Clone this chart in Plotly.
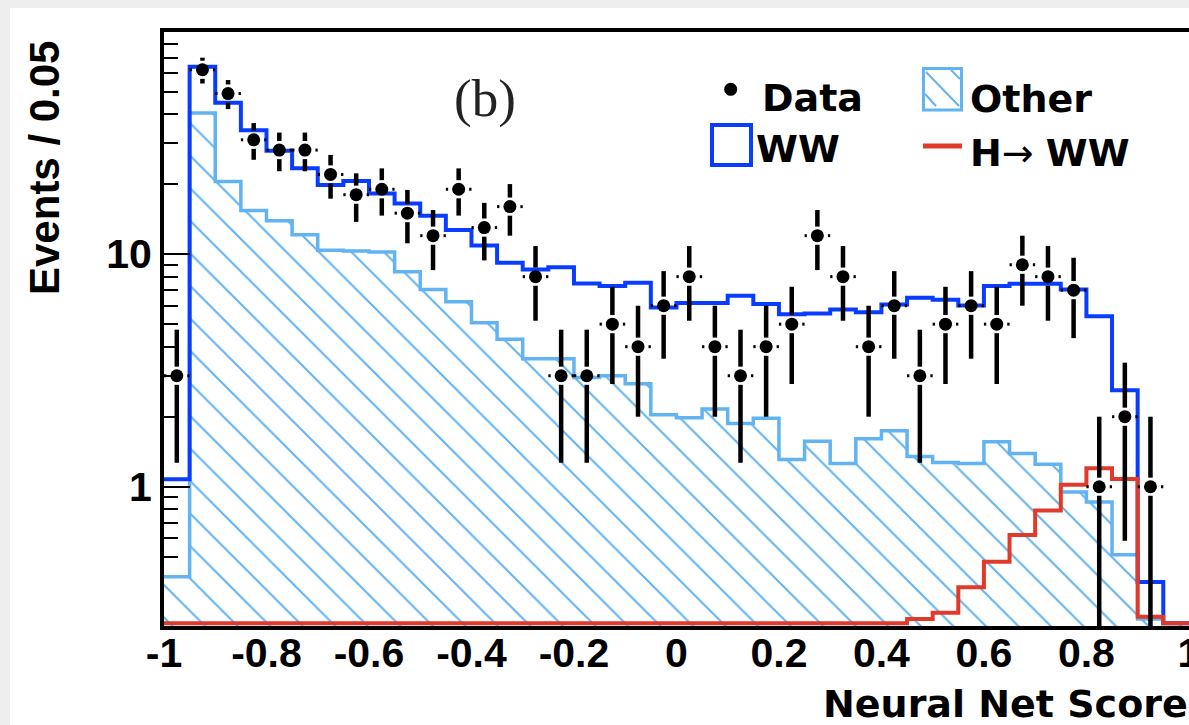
import numpy as np
import plotly.graph_objects as go

# ---------------------------------------------------------------------------
# Neural-net output histogram, 40 bins of width 0.05 on [-1, 1]
# ---------------------------------------------------------------------------
bin_edges = np.round(np.arange(-1.0, 1.0001, 0.05), 3)
bin_centers = (bin_edges[:-1] + bin_edges[1:]) / 2.0

# Other backgrounds (hatched)
other_bkg = [0.41, 40.4, 20.5, 15.4, 13.9, 12.1, 10.4, 10.3, 10.2, 8.4,
             7.05, 6.24, 5.07, 4.3, 3.55, 3.55, 2.95, 3.0, 2.77, 2.04,
             1.98, 2.16, 1.87, 1.97, 1.31, 1.57, 1.26, 1.61, 1.74, 1.35,
             1.27, 1.26, 1.56, 1.39, 1.25, 0.95, 0.86, 0.51, 0.27, 0.0]

# WW stacked on top of the other backgrounds
ww_stack = [1.077, 63.8, 44.7, 34.1, 27.8, 23.4, 19.8, 20.6, 18.2, 16.5,
            14.6, 12.7, 10.9, 9.17, 8.59, 8.77, 7.48, 7.29, 7.53, 5.9,
            6.16, 6.16, 6.62, 6.1, 5.52, 5.55, 5.78, 5.63, 6.08, 6.49,
            6.36, 6.02, 7.29, 7.45, 7.45, 7.05, 5.41, 2.6, 0.39, 0.0]

# Higgs signal H -> WW
higgs_ww = [0.0] * 29 + [0.27, 0.287, 0.37, 0.476, 0.62, 0.79, 1.02, 1.2,
                         1.08, 0.276, 0.0]

# Observed events
data_counts = [3, 62, 49, 31, 28, 28, 22, 18, 19, 15,
               12, 19, 13, 16, 8, 3, 3, 5, 4, 6,
               8, 4, 3, 4, 5, 12, 8, 4, 6, 3,
               5, 6, 5, 9, 8, 7, 1, 2, 1, 0]

x_tick_vals = [-1, -0.8, -0.6, -0.4, -0.2, 0, 0.2, 0.4, 0.6, 0.8, 1]
x_tick_text = ["-1", "-0.8", "-0.6", "-0.4", "-0.2", "0", "0.2", "0.4",
               "0.6", "0.8", "1"]
y_tick_vals = [1, 10]
y_tick_text = ["1", "10"]
y_minor_vals = [0.5, 0.6, 0.7, 0.8, 0.9, 2, 3, 4, 5, 6, 7, 8, 9,
                20, 30, 40, 50, 60, 70, 80]

# ---------------------------------------------------------------------------
# Style
# ---------------------------------------------------------------------------
BLUE = "#0a3cff"
LIGHT_BLUE = "#62b3f2"
RED = "#e23a2a"
Y_MIN, Y_MAX = 0.252, 90.1
X_MAX = 1.0002
BASELINE = 0.259          # where empty bins are drawn on the log axis
HALF_BIN = 0.025
GAP_X = 0.0205            # gap left around a data marker (x units)
GAP_DEC = 0.039           # gap left around a data marker (decades)

W, H = 1189, 725
PL, PR, PT, PB = 164, 1189, 32, 626   # plot area in pixels


def px(x):
    return (x - PL) / (PR - PL)


def py(y):
    return (PB - y) / (PB - PT)


def step_xy(values):
    v = np.asarray(values, dtype=float)
    v = np.where(v > 0, v, BASELINE)
    return bin_edges, np.append(v, v[-1])


fig = go.Figure()

# Other backgrounds: hatched fill plus outline
sx, sy = step_xy(other_bkg)
fig.add_trace(go.Scatter(
    x=sx, y=sy, mode="lines", line=dict(color=LIGHT_BLUE, width=3.5, shape="hv"),
    fill="tozeroy", fillcolor="rgba(255,255,255,0)",
    fillpattern=dict(shape="\\", fgcolor=LIGHT_BLUE, bgcolor="rgba(255,255,255,0)",
                     size=23, solidity=0.09, fillmode="replace"),
    hoverinfo="skip"))

# WW (stacked total)
sx, sy = step_xy(ww_stack)
fig.add_trace(go.Scatter(x=sx, y=sy, mode="lines",
                         line=dict(color=BLUE, width=4, shape="hv"),
                         hoverinfo="skip"))

# Higgs signal
sx, sy = step_xy(higgs_ww)
fig.add_trace(go.Scatter(x=sx, y=sy, mode="lines",
                         line=dict(color=RED, width=4, shape="hv"),
                         hoverinfo="skip"))

# Data error bars (Poisson sqrt(N)), with a small gap around each marker
g = 10 ** GAP_DEC
vx, vy, hx, hy = [], [], [], []
for c, n in zip(bin_centers, data_counts):
    if n <= 0:
        continue
    s = np.sqrt(n)
    lo = n - s if n - s > 0 else Y_MIN * 0.7
    vx += [c, c, None, c, c, None]
    vy += [n + s, n * g, None, n / g, lo, None]
    hx += [c - HALF_BIN, c - GAP_X, None, c + GAP_X, c + HALF_BIN, None]
    hy += [n, n, None, n, n, None]

fig.add_trace(go.Scatter(x=vx, y=vy, mode="lines",
                         line=dict(color="black", width=4.5), hoverinfo="skip"))
fig.add_trace(go.Scatter(x=hx, y=hy, mode="lines",
                         line=dict(color="black", width=3), hoverinfo="skip"))

dc = np.asarray(data_counts)
fig.add_trace(go.Scatter(x=bin_centers[dc > 0], y=dc[dc > 0], mode="markers",
                         marker=dict(color="black", size=13, line=dict(width=0)),
                         hoverinfo="skip"))

# ---------------------------------------------------------------------------
# Legend, labels and frame decorations
# ---------------------------------------------------------------------------
shapes = [
    # white page area inside the light grey border
    dict(type="rect", xref="paper", yref="paper", layer="below",
         x0=px(10), x1=px(W + 5), y0=py(H + 5), y1=py(8),
         fillcolor="white", line=dict(width=0)),
    # Data marker
    dict(type="circle", xref="paper", yref="paper",
         x0=px(724.2), x1=px(737.2), y0=py(95.8), y1=py(82.8),
         fillcolor="black", line=dict(width=0)),
    # WW box
    dict(type="rect", xref="paper", yref="paper",
         x0=px(712), x1=px(751), y0=py(165), y1=py(125),
         line=dict(color=BLUE, width=4), fillcolor="rgba(0,0,0,0)"),
    # Other box with hatching
    dict(type="rect", xref="paper", yref="paper",
         x0=px(923.5), x1=px(961.5), y0=py(110), y1=py(68.5),
         line=dict(color=LIGHT_BLUE, width=3), fillcolor="rgba(0,0,0,0)"),
    dict(type="line", xref="paper", yref="paper",
         x0=px(926), x1=px(959), y0=py(72), y1=py(106),
         line=dict(color=LIGHT_BLUE, width=2)),
    dict(type="line", xref="paper", yref="paper",
         x0=px(925), x1=px(936), y0=py(94), y1=py(106),
         line=dict(color=LIGHT_BLUE, width=2)),
    dict(type="line", xref="paper", yref="paper",
         x0=px(951), x1=px(960), y0=py(70), y1=py(79),
         line=dict(color=LIGHT_BLUE, width=2)),
    # H -> WW line
    dict(type="line", xref="paper", yref="paper",
         x0=px(923), x1=px(962), y0=py(146), y1=py(146),
         line=dict(color=RED, width=5)),
]

LEG_FONT = dict(family="DejaVu Sans", size=38, color="black", weight="bold")


def label(text, x, y, xanchor="left", font=LEG_FONT, angle=0):
    return dict(text=text, xref="paper", yref="paper", x=px(x), y=py(y),
                xanchor=xanchor, yanchor="middle", showarrow=False,
                font=font, textangle=angle)


annotations = [
    label("Data", 760, 98.5),
    label("Other", 968, 99),
    label("WW", 754, 149),
    label("<b>H</b>→ <b>WW</b>", 968, 152.5,
          font=dict(family="DejaVu Sans", size=38, color="black", weight="normal")),
    label("(b)", 485, 98, xanchor="center",
          font=dict(family="Liberation Serif", size=53, color="#222222")),
    label("Neural Net Score", 1190, 704, xanchor="right",
          font=dict(family="DejaVu Sans", size=38, color="black", weight="bold")),
    label("Events / 0.05", 45, 168, xanchor="center", angle=-90,
          font=dict(family="Liberation Sans", size=42, color="black", weight="bold")),
]

TICK_FONT = dict(family="Liberation Sans", size=41, color="black", weight="bold")

fig.update_layout(
    width=W, height=H,
    margin=dict(l=PL, r=W - PR, t=PT, b=H - PB, autoexpand=False),
    paper_bgcolor="#eeeeee", plot_bgcolor="white",
    showlegend=False,
    shapes=shapes, annotations=annotations,
    xaxis=dict(range=[-1, X_MAX], showline=True, linecolor="black", linewidth=4,
               mirror=True, ticks="", tickvals=x_tick_vals, ticktext=x_tick_text,
               tickfont=TICK_FONT, ticklabelstandoff=-12,
               ticklabeloverflow="allow",
               showgrid=False, zeroline=False),
    yaxis=dict(type="log", range=[np.log10(Y_MIN), np.log10(Y_MAX)],
               showline=True, linecolor="black", linewidth=4, mirror=False,
               ticks="inside", ticklen=26, tickwidth=2, tickcolor="black",
               tickvals=y_tick_vals, ticktext=y_tick_text, tickfont=TICK_FONT,
               minor=dict(ticks="inside", ticklen=14, tickwidth=2,
                          tickcolor="black", tickvals=y_minor_vals,
                          showgrid=False),
               showgrid=False, zeroline=False),
)

fig.write_html("out.html")
